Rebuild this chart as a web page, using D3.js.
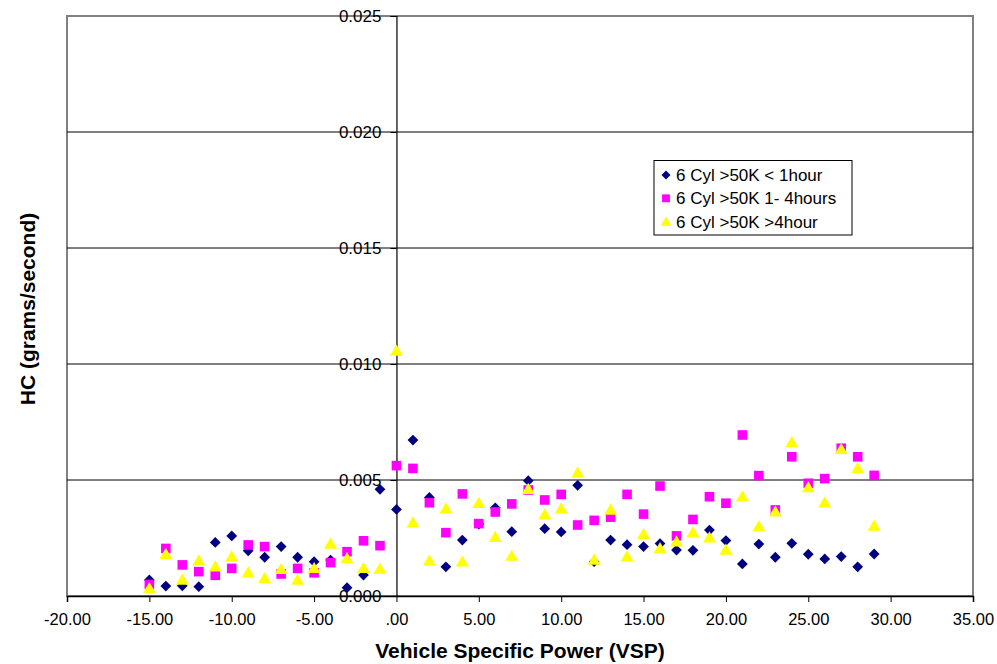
<!DOCTYPE html>
<html>
<head>
<meta charset="utf-8">
<script src="https://cdn.jsdelivr.net/npm/d3@7"></script>
<style>
  html, body { margin: 0; padding: 0; background: #fff; }
  svg { display: block; }
</style>
</head>
<body>
<svg id="chart" width="997" height="664"></svg>
<script>
const vsp = [-15,-14,-13,-12,-11,-10,-9,-8,-7,-6,-5,-4,-3,-2,-1,0,1,2,3,4,5,6,7,8,9,10,11,12,13,14,15,16,17,18,19,20,21,22,23,24,25,26,27,28,29];
const seriesNames = ["6 Cyl >50K < 1hour", "6 Cyl >50K 1- 4hours", "6 Cyl >50K >4hour"];
const lessThan1h = [0.00069,0.00043,0.00044,0.00040,0.00231,0.00259,0.00195,0.00167,0.00213,0.00167,0.00148,0.00155,0.00036,0.00090,0.00460,0.00373,0.00672,0.00425,0.00126,0.00241,0.00310,0.00380,0.00277,0.00497,0.00290,0.00276,0.00477,0.00148,0.00241,0.00221,0.00213,0.00226,0.00198,0.00197,0.00284,0.00239,0.00138,0.00224,0.00167,0.00227,0.00180,0.00160,0.00170,0.00126,0.00181];
const oneTo4h = [0.00050,0.00205,0.00134,0.00105,0.00089,0.00119,0.00220,0.00213,0.00095,0.00119,0.00100,0.00144,0.00191,0.00238,0.00217,0.00562,0.00550,0.00402,0.00273,0.00440,0.00312,0.00362,0.00397,0.00457,0.00414,0.00438,0.00306,0.00326,0.00340,0.00438,0.00353,0.00474,0.00259,0.00330,0.00428,0.00400,0.00694,0.00519,0.00371,0.00600,0.00486,0.00506,0.00637,0.00600,0.00520];
const over4h = [0.00033,0.00180,0.00069,0.00152,0.00126,0.00169,0.00100,0.00076,0.00115,0.00069,0.00119,0.00224,0.00162,0.00119,0.00116,0.01056,0.00316,0.00152,0.00376,0.00147,0.00400,0.00253,0.00172,0.00460,0.00350,0.00376,0.00531,0.00155,0.00371,0.00169,0.00266,0.00205,0.00234,0.00273,0.00251,0.00198,0.00428,0.00299,0.00363,0.00662,0.00468,0.00402,0.00632,0.00550,0.00302];
const xTicks = [-20,-15,-10,-5,0,5,10,15,20,25,30,35];
const yTicks = [0,0.005,0.010,0.015,0.020,0.025];
const colors = ["#000080", "#ff00ff", "#ffff00"];

const svg = d3.select("#chart");
const L = 67, R = 973, T = 16, B = 596;
const x = d3.scaleLinear().domain([-20, 35]).range([L, R]);
const y = d3.scaleLinear().domain([0, 0.025]).range([B, T]);

// marker shapes: diamond = rotated square
function marker(sel, i, scale) {
  if (i === 0) {
    sel.attr("d", d3.symbol().type(d3.symbolSquare).size(58 * scale)).attr("transform-extra", "rotate(45)");
  } else if (i === 1) {
    sel.attr("d", d3.symbol().type(d3.symbolSquare).size(92 * scale));
  } else {
    sel.attr("d", d3.symbol().type(d3.symbolTriangle).size(72 * scale));
  }
}

// plot border
svg.append("rect").attr("x", L).attr("y", T).attr("width", R - L).attr("height", B - T)
  .attr("fill", "#fff").attr("stroke", "#808080").attr("stroke-width", 2);

// gridlines
svg.append("g").selectAll("line").data(yTicks.filter(d => d > 0 && d < 0.025)).join("line")
  .attr("x1", L).attr("x2", R).attr("y1", d => y(d)).attr("y2", d => y(d))
  .attr("stroke", "#000").attr("stroke-width", 1);

// y axis at x = 0
const yAxis = d3.axisLeft(y).tickValues(yTicks).tickSize(6).tickPadding(9).tickFormat(d3.format(".3f"));
const gy = svg.append("g").attr("transform", `translate(${x(0)},0)`).call(yAxis);
gy.select(".domain").attr("stroke", "#000").attr("stroke-width", 1.2);
gy.selectAll(".tick line").attr("stroke", "#000");
gy.selectAll(".tick text").attr("font-family", "Liberation Sans, Arial, sans-serif").attr("font-size", 17).attr("fill", "#000");

// x axis at y = 0
const xAxis = d3.axisBottom(x).tickValues(xTicks).tickSize(6).tickPadding(11)
  .tickFormat(d => d === 0 ? ".00" : d3.format(".2f")(d).replace("−", "-"));
const gx = svg.append("g").attr("transform", `translate(0,${y(0)})`).call(xAxis);
gx.select(".domain").attr("stroke", "#000").attr("stroke-width", 1.5);
gx.selectAll(".tick line").attr("stroke", "#000");
gx.selectAll(".tick text").attr("font-family", "Liberation Sans, Arial, sans-serif").attr("font-size", 16.5).attr("fill", "#000");

// series
const allSeries = [lessThan1h, oneTo4h, over4h];
allSeries.forEach((vals, i) => {
  svg.append("g").selectAll("path").data(vals.map((v, j) => [vsp[j], v])).join("path")
    .attr("d", d => {
      if (i === 0) return d3.symbol().type(d3.symbolSquare).size(58)();
      if (i === 1) return d3.symbol().type(d3.symbolSquare).size(92)();
      return d3.symbol().type(d3.symbolTriangle).size(72)();
    })
    .attr("transform", d => `translate(${x(d[0])},${y(d[1]) + (i === 2 ? 1 : 0)})` + (i === 0 ? " rotate(45)" : ""))
    .attr("fill", colors[i]);
});

// axis titles
svg.append("text").attr("x", (L + R) / 2).attr("y", 658).attr("text-anchor", "middle")
  .attr("font-family", "Liberation Sans, Arial, sans-serif").attr("font-weight", "bold")
  .attr("font-size", 21).text("Vehicle Specific Power (VSP)");
svg.append("text").attr("transform", `translate(35,${(T + B) / 2 + 3}) rotate(-90)`).attr("text-anchor", "middle")
  .attr("font-family", "Liberation Sans, Arial, sans-serif").attr("font-weight", "bold")
  .attr("font-size", 21).text("HC (grams/second)");

// legend
const lg = svg.append("g");
lg.append("rect").attr("x", 654).attr("y", 160.5).attr("width", 198).attr("height", 74.5)
  .attr("fill", "#fff").attr("stroke", "#000").attr("stroke-width", 1);
seriesNames.forEach((name, i) => {
  const cy = 175 + i * 23.3;
  lg.append("path")
    .attr("d", i === 2 ? d3.symbol().type(d3.symbolTriangle).size(50)() : d3.symbol().type(d3.symbolSquare).size(i === 0 ? 40 : 62)())
    .attr("transform", `translate(666,${cy + (i === 2 ? 1 : 0)})` + (i === 0 ? " rotate(45)" : ""))
    .attr("fill", colors[i]);
  lg.append("text").attr("x", 676).attr("y", cy + 6).attr("font-family", "Liberation Sans, Arial, sans-serif")
    .attr("font-size", 17).text(name);
});
</script>
</body>
</html>
